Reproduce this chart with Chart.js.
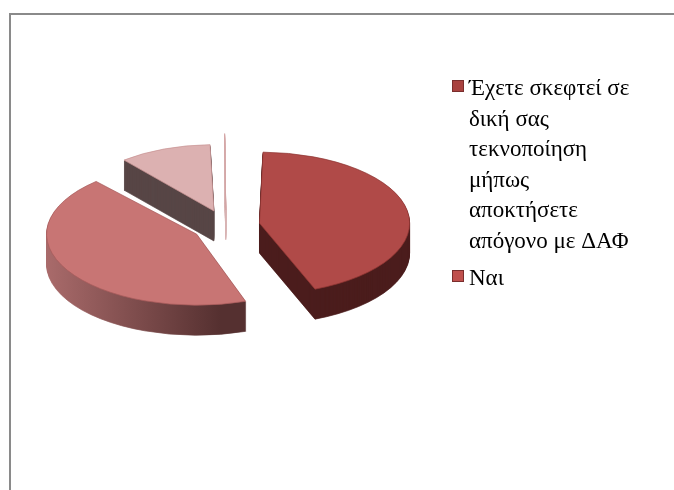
<!DOCTYPE html>
<html>
<head>
<meta charset="utf-8">
<script src="https://cdn.jsdelivr.net/npm/chart.js@4.4.1/dist/chart.umd.min.js"></script>
<style>
  html, body { margin: 0; padding: 0; background: #fff; overflow: hidden; }
  #frame {
    position: absolute; left: 9px; top: 13px; width: 720px; height: 520px;
    border-top: 2px solid #8a8a8a; border-left: 2px solid #8a8a8a;
  }
  #pie { position: absolute; left: 0; top: 0; }
</style>
</head>
<body>
<div id="frame"></div>
<canvas id="pie" width="674" height="490"></canvas>
<script>
const labels = [
  'Έχετε σκεφτεί σε δική σας τεκνοποίηση μήπως αποκτήσετε απόγονο με ΔΑΦ',
  'Ναι',
  'Όχι',
  'Άλλο'
];
const values = [40, 40, 10, 0.2];

// only the first two entries fit in the legend box
const legendCount = 2;

const topColors = ['#b04a48', '#c87574', '#dcb1b1', '#ffffff'];
const edgeColors = ['#8f3533', '#a85c5b', '#c89393', '#d3a3a3'];
const keyColors = ['#a9423f', '#c0504d'];

const SQUASH = 0.473;  // vertical flattening of the tilted pie
const DEPTH = 30;      // thickness of the pie in pixels

function wallFill(ctx, i) {
  if (i === 0) return '#4b1d1c';
  if (i === 2) return '#574646';
  if (i === 3) return '#d8b3b3';
  const g = ctx.createLinearGradient(45, 0, 250, 0);
  g.addColorStop(0, '#b87575');
  g.addColorStop(1, '#553030');
  return g;
}

// squash the pie into an ellipse and stack darker copies under it for the walls
const tiltPlugin = {
  id: 'tilt',
  beforeDatasetsDraw(chart) {
    const ctx = chart.ctx;
    const arcs = chart.getDatasetMeta(0).data;
    const cx = arcs[0].x, cy = arcs[0].y;
    ctx.save();
    ctx.translate(cx, cy);
    ctx.scale(1, SQUASH);
    ctx.translate(-cx, -cy);

    const fills = arcs.map((a, i) => wallFill(ctx, i));
    for (let k = DEPTH; k >= 1; k--) {
      arcs.forEach((arc, i) => {
        const wall = Object.create(arc);
        wall.options = Object.assign({}, arc.options, {
          backgroundColor: fills[i],
          borderColor: fills[i]
        });
        ctx.save();
        ctx.translate(0, k / SQUASH);
        arc.draw.call(wall, ctx);
        ctx.restore();
      });
    }
  },
  afterDatasetsDraw(chart) {
    chart.ctx.restore();
  }
};

function wrap(ctx, text, maxWidth) {
  const lines = [];
  let line = '';
  text.split(' ').forEach(word => {
    const next = line ? line + ' ' + word : word;
    if (line && ctx.measureText(next).width > maxWidth) {
      lines.push(line);
      line = word;
    } else {
      line = next;
    }
  });
  lines.push(line);
  return lines;
}

// legend on the right, wrapped to the width left beside the pie
const sideLegend = {
  id: 'sideLegend',
  afterDraw(chart) {
    const ctx = chart.ctx;
    const keyX = 452, textX = 469, lineStep = 30.5;
    let baseline = 95;
    ctx.save();
    ctx.font = "23px 'Liberation Serif', 'Times New Roman', serif";
    ctx.textBaseline = 'alphabetic';
    for (let i = 0; i < legendCount; i++) {
      ctx.fillStyle = keyColors[i];
      ctx.fillRect(keyX, baseline - 15, 12, 12);
      ctx.strokeStyle = '#7a2e2d';
      ctx.lineWidth = 1;
      ctx.strokeRect(keyX + 0.5, baseline - 14.5, 11, 11);
      ctx.fillStyle = '#000';
      const lines = wrap(ctx, labels[i], 168);
      lines.forEach((ln, j) => ctx.fillText(ln, textX, baseline + j * lineStep));
      baseline += lines.length * lineStep + 7;
    }
    ctx.restore();
  }
};

new Chart(document.getElementById('pie'), {
  type: 'pie',
  data: {
    labels: labels,
    datasets: [{
      data: values,
      backgroundColor: topColors,
      borderColor: edgeColors,
      borderWidth: 1,
      offset: 136,
      radius: 128,
      clip: false
    }]
  },
  options: {
    responsive: false,
    animation: false,
    events: [],
    layout: { padding: { left: 0, top: 0, right: 222, bottom: 38 } },
    plugins: {
      legend: { display: false },
      tooltip: { enabled: false }
    }
  },
  plugins: [tiltPlugin, sideLegend]
});
</script>
</body>
</html>
